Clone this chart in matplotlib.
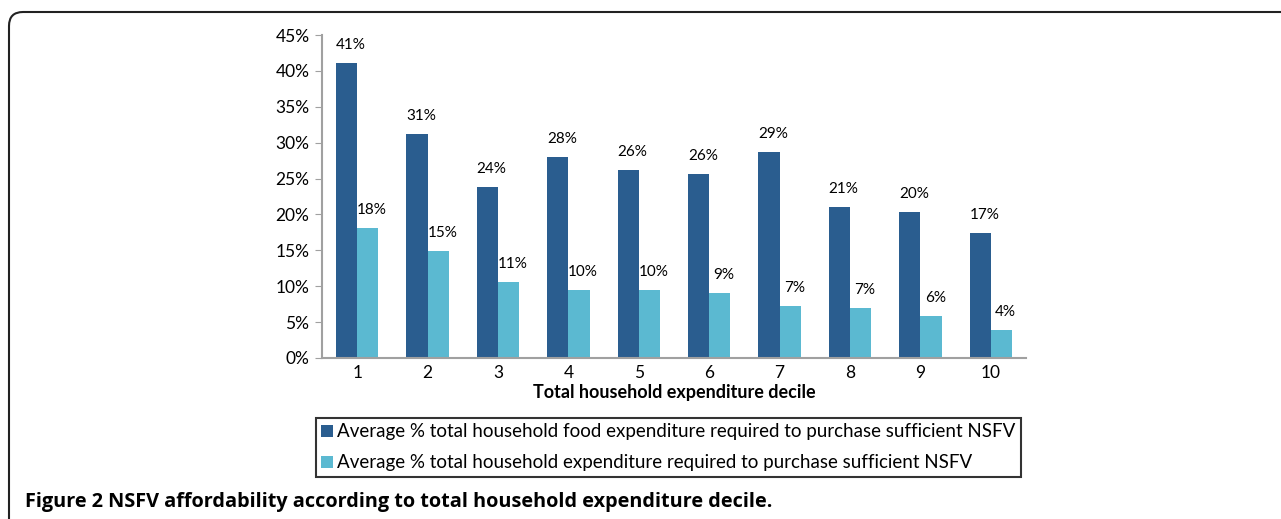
import numpy as np
import matplotlib.pyplot as plt
from matplotlib.patches import FancyBboxPatch

plt.rcParams['font.family'] = ['Lato', 'DejaVu Sans']

deciles = [str(k) for k in range(1, 11)]
food_share = [41.1, 31.2, 23.8, 28.0, 26.2, 25.6, 28.7, 21.0, 20.3, 17.4]
total_share = [18.1, 14.9, 10.6, 9.5, 9.5, 9.1, 7.2, 7.0, 5.8, 3.9]
series_names = [
    "Average % total household food expenditure required to purchase sufficient NSFV",
    "Average % total household expenditure required to purchase sufficient NSFV",
]
dark = "#2a5d8f"
light = "#5bb9d1"

fig = plt.figure(figsize=(12.81, 5.19), dpi=100)
ax = fig.add_axes([322 / 1281, 1 - 358 / 519, 704 / 1281, 323 / 519])

x = np.arange(len(deciles))
w = 0.3
b1 = ax.bar(x - w / 2, food_share, w, color=dark, label=series_names[0])
b2 = ax.bar(x + w / 2, total_share, w, color=light, label=series_names[1])

for bars, vals in [(b1, food_share), (b2, total_share)]:
    for r, v in zip(bars, vals):
        ax.annotate(f"{round(v):.0f}%", (r.get_x() + r.get_width() / 2 + 0.06, v),
                    xytext=(0, 8), textcoords="offset points",
                    ha="center", va="bottom", fontsize=11)

ax.set_xlim(-0.5, len(deciles) - 0.5)
ax.set_ylim(0, 45)
ax.set_yticks(np.arange(0, 46, 5))
ax.set_yticklabels([f"{t}%" for t in range(0, 46, 5)], fontsize=12.5)
ax.set_xticks(x)
ax.set_xticklabels(deciles, fontsize=12.5)
ax.tick_params(axis="x", length=0, pad=5)
ax.tick_params(axis="y", length=5, color="#a0a0a0", pad=4)
for s in ["top", "right"]:
    ax.spines[s].set_visible(False)
for s in ["left", "bottom"]:
    ax.spines[s].set_color("#a0a0a0")
    ax.spines[s].set_linewidth(1.5)
ax.set_xlabel("Total household expenditure decile", fontsize=13,
              fontweight="bold", labelpad=2)

leg = fig.legend(handles=[b1, b2], loc="upper left",
                 bbox_to_anchor=(316 / 1281, 1 - 418 / 519),
                 fontsize=13.5, frameon=True, fancybox=False,
                 handlelength=0.6, handleheight=0.6, handletextpad=0.25,
                 borderpad=0.28, labelspacing=0.75, borderaxespad=0)
leg.get_frame().set_edgecolor("black")
leg.get_frame().set_linewidth(1.5)

border = FancyBboxPatch((9, -30), 1400, 519 - 12 + 30,
                        boxstyle="round,pad=0,rounding_size=14",
                        transform=None, fill=False, edgecolor="#222222",
                        linewidth=1.5)
fig.patches.append(border)

fig.text(25 / 1281, 1 - 502 / 519,
         "Figure 2 NSFV affordability according to total household expenditure decile.",
         fontsize=14.3, fontweight="bold", family=["Open Sans", "DejaVu Sans"],
         va="center", ha="left")

fig.savefig("out.png", dpi=100)
